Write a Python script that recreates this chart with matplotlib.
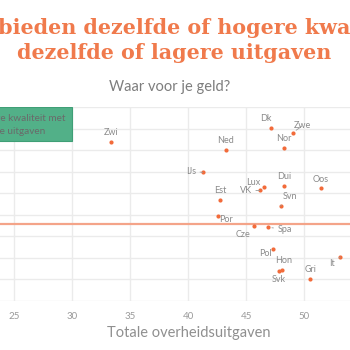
"""Waar voor je geld? - kwaliteit vs totale overheidsuitgaven (crop of a larger chart)."""

import matplotlib

matplotlib.use("Agg")
import matplotlib.pyplot as plt
from matplotlib.patches import Rectangle

# landen (afkorting), totale overheidsuitgaven (% bbp), kwaliteitsscore (as-eenheden)
countries = ["Dk", "Zwe", "Nor", "Ned", "Zwi", "IJs", "Lux", "VK", "Dui", "Oos",
             "Est", "Svn", "Por", "Cze", "Spa", "Pol", "It", "Hon", "Svk", "Gri"]
spending = [47.1, 49.0, 48.25, 43.25, 33.35, 41.25, 46.55, 46.15, 48.25, 51.45,
            42.75, 47.95, 42.55, 45.65, 46.85, 47.3, 53.1, 48.1, 47.8, 50.5]
quality = [8.04, 7.81, 7.08, 6.99, 7.37, 5.97, 5.29, 5.13, 5.33, 5.24,
           4.68, 4.41, 3.94, 3.49, 3.42, 2.43, 2.04, 1.42, 1.39, 1.02]
avg_quality = 3.57

x_ticks = [20, 25, 30, 35, 40, 45, 50, 55]
x_ticklabels = ["", "25", "30", "35", "40", "45", "50", ""]

# label offsets in pixels (dx, dy) and whether a connector is drawn
label_offsets = {
    "Dk": (-5, 9, False), "Zwe": (10, 7, True), "Nor": (0, 10, False),
    "Ned": (0, 10, False), "Zwi": (0, 10, False), "IJs": (-12, 1, True),
    "Lux": (-11, 4, False), "VK": (-14, 0, True), "Dui": (0, 10, False),
    "Oos": (0, 9, False), "Est": (0, 10, False), "Svn": (9, 9, True),
    "Por": (8, -3, False), "Cze": (-11, -9, False), "Spa": (17, -2, True),
    "Pol": (-8, -5, False), "It": (-8, -6, True), "Hon": (1, 10, False),
    "Svk": (0, -8, False), "Gri": (0, 10, False),
}

ORANGE = "#f26b3a"
TITLE = "#f07a4c"
GREEN = "#52b088"
GREY = "#8a8a8a"

W = H = 350
fig = plt.figure(figsize=(3.5, 3.5), dpi=100)
fig.patch.set_facecolor("white")
renderer = fig.canvas.get_renderer()


def px(x, y):
    """pixel position (from top-left) -> figure fraction"""
    return x / W, 1 - y / H


def text_width(s, **kw):
    probe = fig.text(0, 0, s, **kw)
    w = probe.get_window_extent(renderer).width
    probe.remove()
    return w


# axes placed so that the image is a crop of a wider plot
x0_px, unit_px = 14.3 - 5 * 11.6, 11.6
ax = fig.add_axes([x0_px / W, 49 / H, 35 * unit_px / W, 194 / H])
ax.set_xlim(20, 55)
ax.set_ylim(0, 9)
for s in ax.spines.values():
    s.set_visible(False)
ax.set_xticks(x_ticks)
ax.set_xticklabels(x_ticklabels)
ax.set_yticks(range(0, 10))
ax.set_yticklabels([])
ax.grid(True, color="#ebebeb", lw=1.0)
ax.set_axisbelow(True)
ax.tick_params(length=0, labelsize=7, labelcolor="#9a9a9a", pad=8)
for lab in ax.get_xticklabels():
    lab.set_family("Lato")

ax.add_patch(Rectangle((19, 7.4), 11, 1.6, facecolor=GREEN, edgecolor="#3f9f76",
                       lw=0.8, zorder=2))

ax.axhline(avg_quality, color="#f4a489", lw=1.6, zorder=2)
ax.scatter(spending, quality, s=9, color=ORANGE, zorder=4, lw=0)

for name, x, y in zip(countries, spending, quality):
    dx, dy, line = label_offsets[name]
    arrow = dict(arrowstyle="-", color="#9a9a9a", lw=0.6, shrinkA=1, shrinkB=3) if line else None
    ax.annotate(name, (x, y), xytext=(dx, dy), textcoords="offset pixels",
                ha="center", va="center", fontsize=6.5, color=GREY, family="Lato",
                arrowprops=arrow, zorder=5)

fig.text(*px(189, 333), "Totale overheidsuitgaven", ha="center", va="center",
         fontsize=10.5, color="#8f8f8f", family="Lato")

fig.text(*px(170, 87), "Waar voor je geld?", ha="center", va="center",
         fontsize=10.5, color="#7d7d7d", family="Lato")


def place_cropped(text, prefix, x_left, y, **kw):
    """draw text so that the part after `prefix` starts at pixel x_left"""
    w = text_width(prefix, **kw)
    fig.text((x_left - w) / W, 1 - y / H, text, ha="left", va="baseline", **kw)


# title size chosen so the second line spans ~315 px like the original
title_kw = dict(color=TITLE, family="DejaVu Serif", weight="bold")
line2 = "dezelfde of lagere uitgaven"
title_size = 10 * 315 / text_width(line2, fontsize=10, **title_kw)
title_kw["fontsize"] = title_size
place_cropped("Welke landen bieden dezelfde of hogere kwaliteit voor", "Welke landen ",
              -2, 34, **title_kw)
fig.text(*px(174, 59), line2, ha="center", va="baseline", **title_kw)

box_kw = dict(fontsize=7.2, color="#6a6a6a", family="Lato")
place_cropped("Hogere kwaliteit met", "Hoger", 0, 121, **box_kw)
place_cropped("lagere uitgaven", "lager", 0, 134, **box_kw)

fig.savefig("out.png", dpi=100)
